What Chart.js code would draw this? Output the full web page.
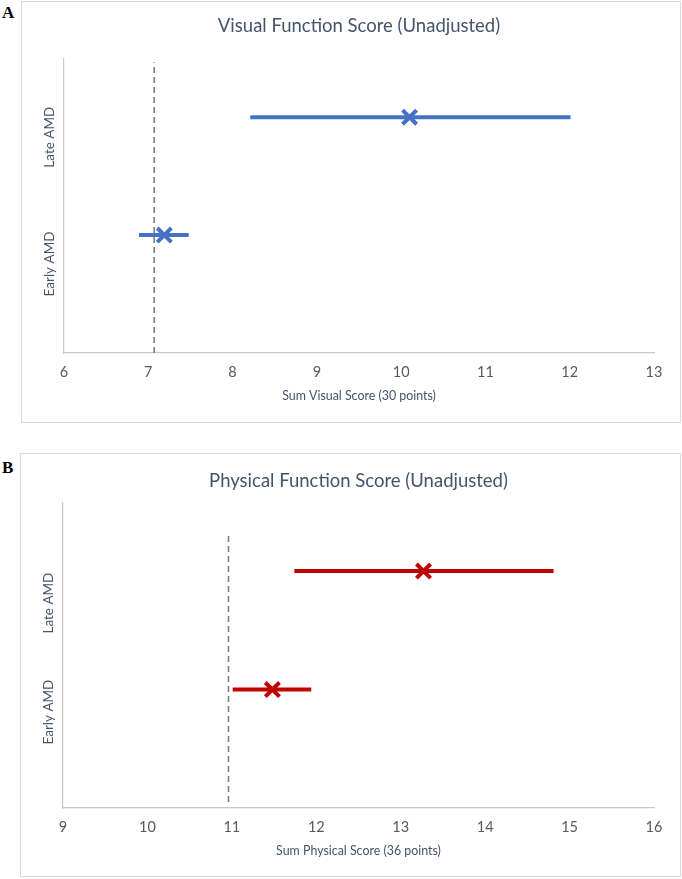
<!DOCTYPE html>
<html>
<head>
<meta charset="utf-8">
<script src="https://cdn.jsdelivr.net/npm/chart.js@4.4.1/dist/chart.umd.min.js"></script>
<style>
  html, body { margin: 0; padding: 0; background: #ffffff; }
  body { width: 682px; height: 879px; position: relative; overflow: hidden; }
  .frame { position: absolute; border: 1.5px solid #d9d9d9; box-sizing: border-box; }
  .holder { position: absolute; }
  .tag { position: absolute; font-family: "Liberation Serif", "DejaVu Serif", serif; font-weight: bold; font-size: 17px; color: #000; line-height: 1; }
</style>
</head>
<body>
<div class="tag" style="left:2px; top:4px;">A</div>
<div class="frame" style="left:21px; top:1px; width:660px; height:422px;"></div>
<div class="holder" style="left:21px; top:1px; width:660px; height:422px;"><canvas id="chartA"></canvas></div>

<div class="tag" style="left:2px; top:459px;">B</div>
<div class="frame" style="left:20px; top:453px; width:661px; height:424px;"></div>
<div class="holder" style="left:20px; top:453px; width:661px; height:424px;"><canvas id="chartB"></canvas></div>

<script>
// ---------- data ----------
const categories = ["Late AMD", "Early AMD"];
const rowPositions = [4, 2];              // vertical slot of each group on the hidden value axis

// Panel A: Visual Function Score (Unadjusted)
const visualMean  = [10.10, 7.19];
const visualLower = [8.21, 6.89];
const visualUpper = [12.01, 7.48];
const visualRef   = 7.07;
const visualTicks = [6, 7, 8, 9, 10, 11, 12, 13];
const visualLabelPos = [3.66, 1.51];
const visualRefSpan = [0, 4.93];

// Panel B: Physical Function Score (Unadjusted)
const physicalMean  = [13.27, 11.48];
const physicalLower = [11.74, 11.01];
const physicalUpper = [14.81, 11.94];
const physicalRef   = 10.96;
const physicalTicks = [9, 10, 11, 12, 13, 14, 15, 16];
const physicalLabelPos = [3.46, 1.62];
const physicalRefSpan = [0.10, 4.66];

// ---------- helpers ----------
const TEXT = "#44546a";
const categoryLabelPlugin = {
  id: "categoryLabels",
  afterDraw(chart, args, opts) {
    const { ctx, chartArea } = chart;
    const ys = chart.scales.y;
    ctx.save();
    ctx.fillStyle = TEXT;
    ctx.font = "13.5px Lato";
    ctx.textAlign = "center";
    ctx.textBaseline = "middle";
    opts.labels.forEach((lab, i) => {
      const y = ys.getPixelForValue(opts.positions[i]);
      ctx.save();
      ctx.translate(chartArea.left - 14, y);
      ctx.rotate(-Math.PI / 2);
      ctx.fillText(lab, 0, 0);
      ctx.restore();
    });
    ctx.restore();
  }
};

function buildChart(id, cfg) {
  const datasets = [];
  // reference (dashed) line
  datasets.push({
    type: "line",
    data: [{ x: cfg.ref, y: cfg.refSpan[0] }, { x: cfg.ref, y: cfg.refSpan[1] }],
    borderColor: "#7f7f7f",
    borderWidth: 1.6,
    borderDash: [6, 4],
    pointRadius: 0,
    clip: false
  });
  // interval lines
  categories.forEach((c, i) => {
    datasets.push({
      type: "line",
      label: c,
      data: [{ x: cfg.lower[i], y: rowPositions[i] }, { x: cfg.upper[i], y: rowPositions[i] }],
      borderColor: cfg.color,
      borderWidth: 4,
      pointRadius: 0,
      borderCapStyle: "butt"
    });
  });
  // point estimates
  datasets.push({
    type: "scatter",
    data: categories.map((c, i) => ({ x: cfg.mean[i], y: rowPositions[i] })),
    pointStyle: "crossRot",
    pointRadius: 10,
    pointBorderWidth: 4,
    borderColor: cfg.color,
    backgroundColor: cfg.color,
    clip: false
  });

  return new Chart(document.getElementById(id), {
    type: "scatter",
    data: { datasets },
    plugins: [categoryLabelPlugin],
    options: {
      responsive: true,
      maintainAspectRatio: false,
      animation: false,
      events: [],
      layout: { padding: { left: 43, right: cfg.padRight, top: 0, bottom: 0 } },
      plugins: {
        legend: { display: false },
        tooltip: { enabled: false },
        title: {
          display: true,
          text: cfg.title,
          color: TEXT,
          font: { family: "Lato", size: 18.5, weight: "normal", lineHeight: 1.2 },
          padding: { top: cfg.titleTop, bottom: cfg.titleBottom }
        },
        categoryLabels: { labels: categories, positions: cfg.labelPos }
      },
      scales: {
        x: {
          type: "linear",
          min: cfg.ticks[0],
          max: cfg.ticks[cfg.ticks.length - 1],
          afterBuildTicks: (s) => { s.ticks = cfg.ticks.map(v => ({ value: v })); },
          afterFit: (s) => { s.height = cfg.xHeight; },
          grid: { display: false, drawTicks: false },
          border: { display: true, color: "#c8c8c8", width: 1.2 },
          ticks: {
            color: "#595959",
            font: { family: "Lato", size: 14.5 },
            padding: 11,
            maxRotation: 0
          },
          title: {
            display: true,
            text: cfg.xTitle,
            color: TEXT,
            font: { family: "Lato", size: 12.4, lineHeight: 1.2 },
            padding: { top: 0, bottom: cfg.xTitleBottom }
          }
        },
        y: {
          type: "linear",
          min: 0,
          max: cfg.yMax,
          afterFit: (s) => { s.width = 0; },
          grid: { display: false, drawTicks: false },
          border: { display: true, color: "#c8c8c8", width: 1.2 },
          ticks: { display: false }
        }
      }
    }
  });
}

buildChart("chartA", {
  title: "Visual Function Score (Unadjusted)",
  xTitle: "Sum Visual Score (30 points)",
  color: "#4472c4",
  mean: visualMean, lower: visualLower, upper: visualUpper,
  ref: visualRef, refSpan: visualRefSpan,
  ticks: visualTicks, labelPos: visualLabelPos,
  yMax: 5,
  padRight: 27,
  titleTop: 13.5, titleBottom: 21.5,
  xHeight: 70, xTitleBottom: 20
});

buildChart("chartB", {
  title: "Physical Function Score (Unadjusted)",
  xTitle: "Sum Physical Score (36 points)",
  color: "#c00000",
  mean: physicalMean, lower: physicalLower, upper: physicalUpper,
  ref: physicalRef, refSpan: physicalRefSpan,
  ticks: physicalTicks, labelPos: physicalLabelPos,
  yMax: 5.15,
  padRight: 27,
  titleTop: 16.5, titleBottom: 11.3,
  xHeight: 69, xTitleBottom: 19
});
</script>
</body>
</html>
